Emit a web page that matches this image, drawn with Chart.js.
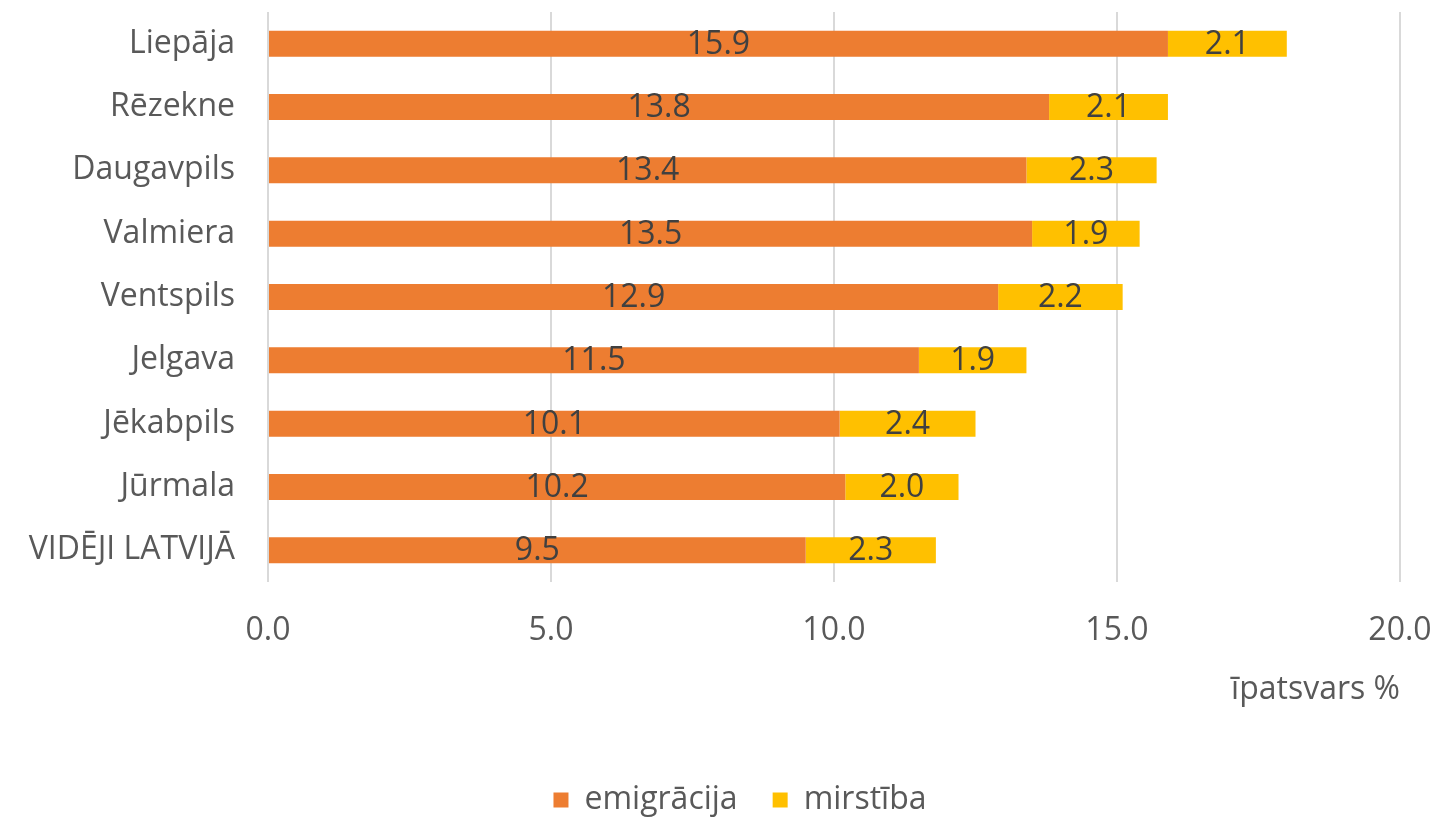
<!DOCTYPE html>
<html>
<head>
<meta charset="utf-8">
<script src="https://cdn.jsdelivr.net/npm/chart.js@4"></script>
<style>
  html, body { margin: 0; padding: 0; background: #fff; }
  #wrap { width: 1440px; height: 817px; }
</style>
</head>
<body>
<div id="wrap"><canvas id="chart" width="1440" height="817"></canvas></div>
<script>
// pilsetas un vertibas (%)
var pilsetas = ["Liepāja", "Rēzekne", "Daugavpils", "Valmiera", "Ventspils", "Jelgava", "Jēkabpils", "Jūrmala", "VIDĒJI LATVIJĀ"];
var emigracija = [15.9, 13.8, 13.4, 13.5, 12.9, 11.5, 10.1, 10.2, 9.5];
var mirstiba = [2.1, 2.1, 2.3, 1.9, 2.2, 1.9, 2.4, 2.0, 2.3];
var xTicks = [0, 5, 10, 15, 20];

var fonts = "'Open Sans', 'Noto Sans', sans-serif";

// vertibas bara vidu
var barLabels = {
    id: 'barLabels',
    afterDatasetsDraw: function(chart) {
        var ctx = chart.ctx;
        ctx.save();
        ctx.font = '32px ' + fonts;
        ctx.fillStyle = '#404040';
        ctx.textAlign = 'center';
        ctx.textBaseline = 'middle';
        chart.data.datasets.forEach(function(ds, i) {
            var meta = chart.getDatasetMeta(i);
            meta.data.forEach(function(bar, j) {
                var cx = (bar.x + bar.base) / 2;
                ctx.fillText(ds.data[j].toFixed(1), cx, bar.y + 1);
            });
        });
        ctx.restore();
    }
};

// legendu pabidit pa labi, lai ta ir zem grafika vidus
var legendShift = {
    id: 'legendShift',
    afterLayout: function(chart) {
        chart.legend.left += 40;
        chart.legend.right += 40;
    }
};

var ctx = document.getElementById('chart').getContext('2d');
var myChart = new Chart(ctx, {
    type: 'bar',
    data: {
        labels: pilsetas,
        datasets: [{
            label: 'emigrācija',
            data: emigracija,
            backgroundColor: '#ED7D31',
            barPercentage: 0.41,
            categoryPercentage: 1
        }, {
            label: 'mirstība',
            data: mirstiba,
            backgroundColor: '#FFC000',
            barPercentage: 0.41,
            categoryPercentage: 1
        }]
    },
    options: {
        indexAxis: 'y',
        responsive: false,
        animation: false,
        layout: { padding: { top: 12, left: 0, right: 40, bottom: -9 } },
        scales: {
            x: {
                stacked: true,
                min: 0, max: 20,
                afterBuildTicks: function(s) { s.ticks = xTicks.map(function(v) { return { value: v }; }); },
                afterFit: function(s) { s.height = 167; s.paddingLeft = 0; s.paddingRight = 0; },
                grid: { color: '#d9d9d9', lineWidth: 2, drawTicks: false },
                border: { display: false },
                ticks: {
                    padding: 30,
                    color: '#595959',
                    font: { size: 32, family: fonts },
                    callback: function(v) { return v.toFixed(1); }
                },
                title: {
                    display: true,
                    text: 'īpatsvars %',
                    align: 'end',
                    color: '#595959',
                    font: { size: 32, family: fonts },
                    padding: { top: 10, bottom: 40 }
                }
            },
            y: {
                stacked: true,
                afterFit: function(s) { s.width = 268; s.paddingTop = 0; s.paddingBottom = 0; },
                grid: { display: false },
                border: { display: false },
                ticks: {
                    padding: 25,
                    color: '#595959',
                    font: { size: 32, family: fonts }
                }
            }
        },
        plugins: {
            legend: {
                position: 'bottom',
                labels: {
                    boxWidth: 15,
                    boxHeight: 15,
                    padding: 35,
                    color: '#595959',
                    font: { size: 32, family: fonts }
                }
            },
            tooltip: { enabled: false }
        }
    },
    plugins: [barLabels, legendShift]
});
</script>
</body>
</html>
